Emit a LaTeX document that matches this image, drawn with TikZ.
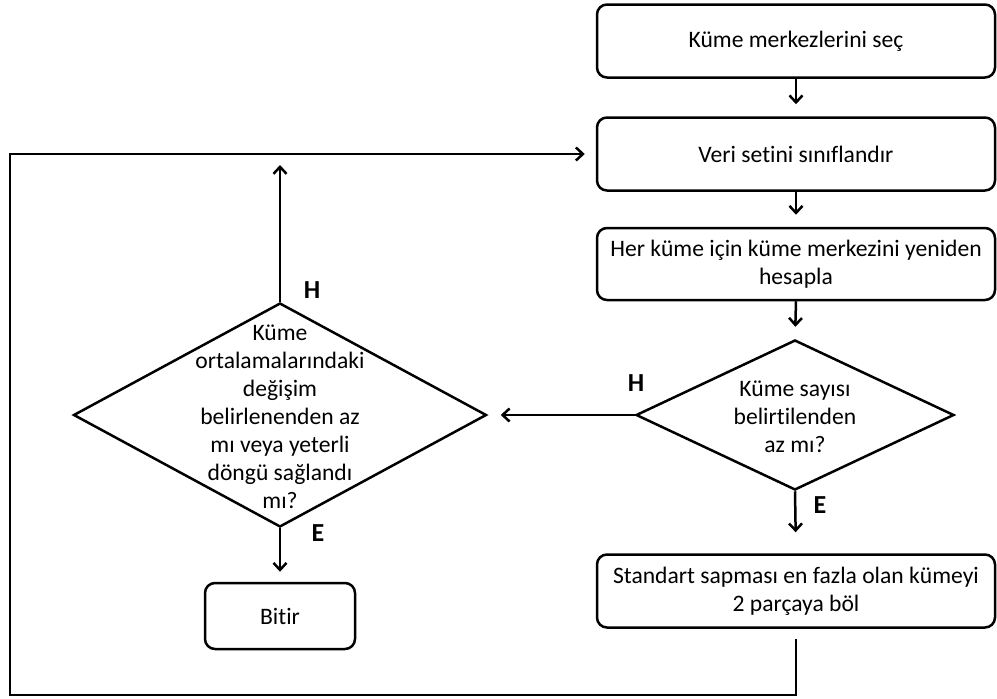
\documentclass[tikz,border=0pt]{standalone}
\usepackage{fontspec}
\setmainfont{Carlito}[Ligatures=NoCommon]
\usetikzlibrary{shapes.geometric,arrows.meta}
\begin{document}
\begin{tikzpicture}[x=1pt,y=-1pt,
  font=\fontsize{23.6}{28}\selectfont,
  every node/.style={inner sep=0pt},
  procbox/.style={draw,line width=2.5pt,rounded corners=10pt,minimum width=398pt,minimum height=73pt,align=center},
  decbox/.style={draw,line width=2.5pt,diamond},
  lbl/.style={font=\fontsize{26}{30}\selectfont\bfseries},
  conn/.style={line width=2.5pt,-{Straight Barb[length=7pt,width=13pt,line width=2.5pt]}},
  plain/.style={line width=2.5pt}
]
\useasboundingbox (0,0) rectangle (997,699);
\node[procbox] (b1) at (796,41) {Küme merkezlerini seç};
\node[procbox] (b2) at (796,154) {Veri setini sınıflandır};
\node[procbox,minimum height=72pt] (b3) at (796,264) {Her küme için küme merkezini yeniden\\hesapla};
\node[decbox,minimum width=318pt,minimum height=150pt] (d1) at (795,415) {};
\node[align=center] (t1) at (795,417) {Küme sayısı\\belirtilenden\\az mı?};
\node[procbox] (b4) at (796,591) {Standart sapması en fazla olan kümeyi\\2 parçaya böl};
\node[decbox,minimum width=413pt,minimum height=224pt] (d2) at (280,415) {};
\node[align=center] (t2) at (280,417) {Küme\\ortalamalarındaki\\değişim\\belirlenenden az\\mı veya yeterli\\döngü sağlandı\\mı?};
\node[draw,line width=2.5pt,rounded corners=10pt,minimum width=150pt,minimum height=66pt] (bt) at (280,616) {Bitir};
\node[lbl] (h1) at (636,383) {H};
\node[lbl] (e1) at (820,505) {E};
\node[lbl] (h2) at (312,290) {H};
\node[lbl] (e2) at (318,533) {E};
\coordinate (up) at (280,165);
\coordinate (c1) at (796,695);
\coordinate (c2) at (10,695);
\coordinate (c3) at (10,154);
\draw[conn,shorten >=12pt] (b1.south) -- (b2.north);
\draw[conn,shorten >=12pt] (b2.south) -- (b3.north);
\draw[conn,shorten >=12pt] (b3.south) -- (d1.north);
\draw[conn,shorten >=21pt] (d1.south) -- (b4.north);
\draw[conn,shorten >=13pt] (d1.west) -- (d2.east);
\draw[conn] (d2.north) -- (up);
\draw[conn,shorten >=10pt] (d2.south) -- (bt.north);
\draw[conn,shorten <=10pt,shorten >=11pt] (b4.south) -- (c1) -- (c2) -- (c3) -- (b2.west);
\end{tikzpicture}
\end{document}
